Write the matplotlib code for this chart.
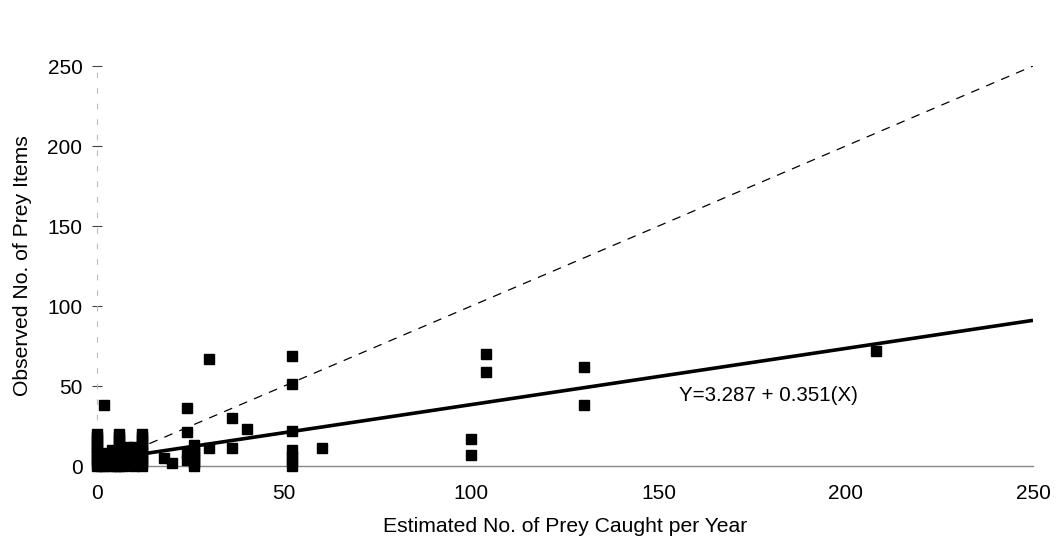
import matplotlib
matplotlib.use("Agg")
import matplotlib.pyplot as plt
import numpy as np

plt.rcParams['font.family'] = ['Liberation Sans', 'DejaVu Sans']

est_x = [0, 0, 0, 0, 0, 0, 0, 0, 0, 0, 0,
         1, 1, 1, 1, 1,
         2, 2, 2, 2, 2,
         3, 3, 3,
         4, 4, 4, 4, 4, 4,
         5, 5, 5, 5, 5,
         6, 6, 6, 6, 6, 6, 6, 6, 6, 6, 6,
         7, 7, 7, 7, 7, 7,
         8, 8, 8,
         9, 9, 9,
         10, 10, 10, 10, 10, 10, 10,
         12, 12, 12, 12, 12, 12, 12, 12, 12, 12, 12,
         18, 20,
         24, 24, 24, 24,
         26, 26, 26, 26, 26, 26, 26,
         30, 30,
         36, 36,
         40,
         52, 52, 52, 52, 52, 52, 52,
         60,
         100, 100,
         104, 104,
         130, 130,
         208]
obs_y = [0, 2, 4, 6, 8, 10, 12, 14, 16, 18, 20,
         0, 2, 4, 6, 8,
         0, 2, 4, 6, 38,
         2, 4, 6,
         0, 2, 4, 6, 8, 10,
         0, 2, 4, 6, 8,
         0, 2, 4, 6, 8, 10, 12, 14, 16, 18, 20,
         0, 2, 4, 6, 8, 10,
         4, 8, 12,
         2, 6, 10,
         0, 2, 4, 6, 8, 10, 12,
         0, 2, 4, 6, 8, 10, 12, 14, 16, 18, 20,
         5, 2,
         36, 21, 8, 4,
         0, 2, 4, 6, 8, 10, 13,
         67, 11,
         30, 11,
         23,
         69, 51, 22, 10, 6, 3, 0,
         11,
         17, 7,
         70, 59,
         62, 38,
         72]

intercept = 3.287
slope = 0.351
fit_x = [12, 250]
ident_x = [14, 250]

x_ticks = [0, 50, 100, 150, 200, 250]
y_ticks = [0, 50, 100, 150, 200, 250]

fig = plt.figure(figsize=(10.60, 5.44), dpi=100)
ax = fig.add_axes([97/1060, 78/544, 936/1060, 400/544])

ax.plot(est_x, obs_y, linestyle='none', marker='s', markersize=6.5,
        color='black', clip_on=False, zorder=3)

fx = np.array(fit_x, dtype=float)
ax.plot(fx, intercept + slope*fx, color='black', lw=2.6, zorder=4,
        solid_capstyle='butt')
ix = np.array(ident_x, dtype=float)
ax.plot(ix, ix, color='black', lw=0.9, linestyle=(0, (7, 6)), zorder=2)

ax.text(155.5, 44, 'Y=3.287 + 0.351(X)', fontsize=14.8, ha='left', va='center')

ax.set_xlim(0, 250)
ax.set_ylim(0, 250)
ax.set_xticks(x_ticks)
ax.set_yticks(y_ticks)
ax.tick_params(axis='x', length=0, pad=13, labelsize=15)
ax.tick_params(axis='y', length=7, width=0.8, direction='inout', pad=7,
               labelsize=15, color='#444444')

for s in ['top', 'right']:
    ax.spines[s].set_visible(False)
ax.spines['bottom'].set_color('#888888')
ax.spines['bottom'].set_linewidth(1.0)
ax.spines['left'].set_color('#bbbbbb')
ax.spines['left'].set_linewidth(0.8)
ax.spines['left'].set_linestyle((0, (4, 10)))

ax.set_xlabel('Estimated No. of Prey Caught per Year', fontsize=15.2, labelpad=10)
ax.set_ylabel('Observed No. of Prey Items', fontsize=15.2, labelpad=11)

fig.savefig('out.png', dpi=100)
